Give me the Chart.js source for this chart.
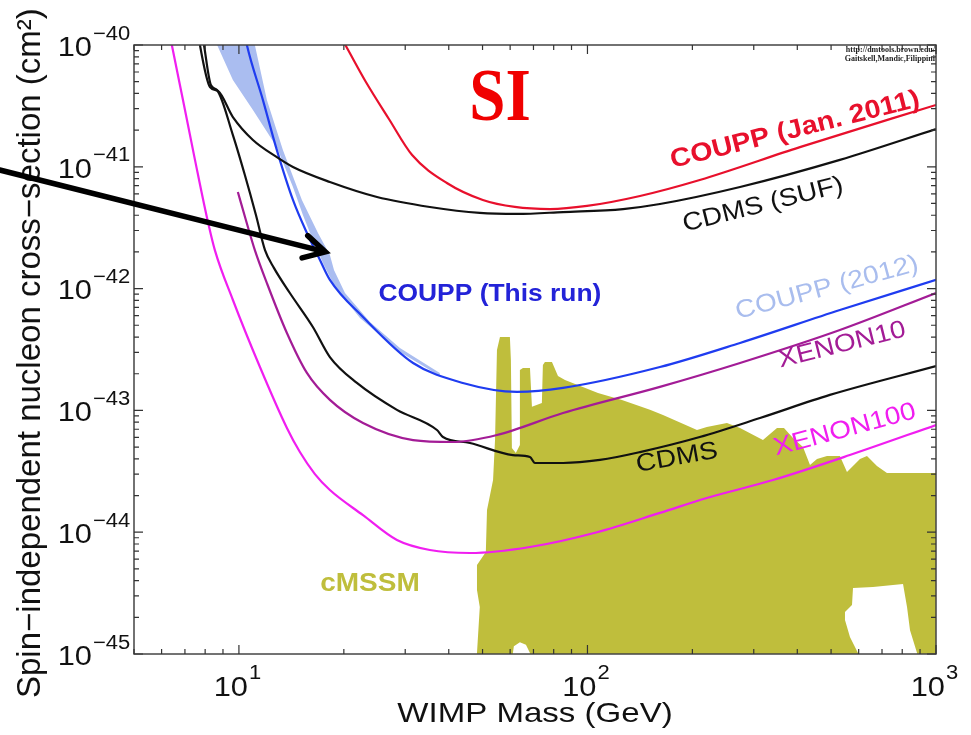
<!DOCTYPE html>
<html>
<head>
<meta charset="utf-8">
<script src="https://cdn.jsdelivr.net/npm/chart.js@4.4.1/dist/chart.umd.min.js"></script>
<style>
  html, body { margin: 0; padding: 0; background: #fff; }
  #wrap { width: 971px; height: 735px; }
</style>
</head>
<body>
<div id="wrap"><canvas id="chart" width="971" height="735"></canvas></div>
<script>
// WIMP mass in GeV, cross-section in cm^2
const coupp2011Mass  = [18.86, 20.2, 23.14, 26.94, 31.4, 39.5, 50.1, 61.9, 78.1, 99.7, 141.5, 210, 407, 1000];
const coupp2011Sigma = [1.41e-40, 1.0e-40, 4.97e-41, 2.47e-41, 1.25e-41, 7.36e-42, 5.34e-42, 4.68e-42, 4.50e-42, 4.77e-42, 5.76e-42, 7.79e-42, 1.45e-41, 3.22e-41];

const cdmsSufMass  = [7.58, 7.73, 8.26, 8.71, 9.61, 10.97, 12.85, 14.29, 18.24, 24.9, 35.3, 49.1, 62.8, 85.1, 126.5, 161.4, 274, 530, 1000];
const cdmsSufSigma = [1.46e-40, 1.0e-40, 4.52e-41, 4.19e-41, 2.56e-41, 1.66e-41, 1.20e-41, 9.96e-42, 7.50e-42, 5.65e-42, 4.68e-42, 4.18e-42, 4.10e-42, 4.25e-42, 4.50e-42, 4.95e-42, 6.83e-42, 1.14e-41, 2.04e-41];

const cdmsMass  = [7.78, 7.94, 8.31, 8.65, 9.61, 10.40, 11.19, 11.88, 12.60, 14.0, 16.3, 18.24, 21.8, 28.4, 37.0, 38.5, 46.0, 61.1, 68.4, 70.7, 85.1, 108.6, 141.5, 210, 312.6, 496, 1000];
const cdmsSigma = [1.46e-40, 1.0e-40, 4.69e-41, 4.27e-41, 1.82e-41, 8.56e-42, 4.02e-42, 2.07e-42, 1.48e-42, 9.20e-43, 4.84e-43, 2.74e-43, 1.68e-43, 1.01e-43, 6.90e-44, 6.05e-44, 5.40e-44, 4.30e-44, 4.14e-44, 3.70e-44, 3.70e-44, 3.92e-44, 4.55e-44, 6.05e-44, 8.66e-44, 1.34e-43, 2.31e-43];

const couppRunMass  = [10.27, 10.54, 11.72, 12.85, 14.29, 15.67, 17.08, 18.24, 22.7, 31.6, 43.9, 62.8, 85.1, 161.4, 274, 530, 1000];
const couppRunSigma = [1.46e-40, 1.0e-40, 3.53e-41, 1.37e-41, 5.34e-42, 2.86e-42, 1.72e-42, 1.18e-42, 5.85e-43, 2.45e-43, 1.68e-43, 1.42e-43, 1.53e-43, 2.27e-43, 3.58e-43, 6.67e-43, 1.18e-42];

const xenon10Mass  = [9.93, 10.47, 11.11, 12.03, 13.73, 15.67, 18.24, 22.7, 31.6, 41.1, 55.0, 85.1, 161.4, 274, 530, 1000];
const xenon10Sigma = [6.21e-42, 3.66e-42, 2.07e-42, 1.11e-42, 4.32e-43, 2.03e-43, 1.22e-43, 7.88e-44, 5.71e-44, 5.50e-44, 6.28e-44, 9.52e-44, 1.56e-43, 2.45e-43, 4.57e-43, 9.20e-43];

const xenon100Mass  = [6.30, 6.42, 6.91, 7.48, 8.09, 8.53, 9.61, 11.49, 13.73, 14.96, 16.52, 18.24, 22.7, 28.4, 35.3, 46.0, 68.4, 106.5, 161.4, 220, 340.6, 566, 1000];
const xenon100Sigma = [1.33e-40, 1.0e-40, 3.53e-41, 1.14e-41, 3.87e-42, 2.07e-42, 8.06e-43, 2.27e-43, 7.17e-44, 4.55e-44, 3.00e-44, 2.22e-44, 1.38e-44, 8.63e-45, 7.14e-45, 6.75e-45, 7.56e-45, 1.00e-44, 1.44e-44, 1.91e-44, 2.68e-44, 4.30e-44, 7.59e-44];

// outline of the COUPP (2012) band: left edge down, right edge back up
const coupp2012Band = [
  [8.53, 1.10e-40], [9.61, 5.16e-41], [10.97, 2.93e-41], [12.85, 1.45e-41], [14.29, 6.83e-42],
  [15.26, 4.02e-42], [16.3, 2.51e-42], [17.53, 1.56e-42], [18.86, 1.03e-42], [22.25, 5.74e-43],
  [28.97, 3.02e-43], [37.7, 1.92e-43], [37.7, 2.03e-43], [28.97, 3.25e-43], [23.77, 5.32e-43],
  [20.15, 9.20e-43], [18.74, 1.42e-42], [18.24, 1.89e-42], [16.86, 2.86e-42], [15.16, 5.34e-42],
  [13.38, 1.37e-41], [12.03, 3.53e-41], [11.11, 1.0e-40], [11.19, 1.10e-40]
];

// outline of the cMSSM region
const cmssmRegion = [
  [48.2, 8.12e-46], [48.2, 1.02e-45], [49.1, 2.43e-45], [48.2, 3.35e-45], [48.2, 5.38e-45],
  [51.1, 6.88e-45], [51.5, 1.52e-44], [53.6, 2.68e-44], [54.3, 5.71e-44], [55.0, 3.13e-43],
  [56.1, 4.00e-43], [59.9, 4.00e-43], [60.3, 2.59e-43], [60.7, 4.91e-44], [62.3, 4.47e-44],
  [64.0, 5.20e-44], [64.0, 2.15e-43], [65.3, 2.23e-43], [68.4, 2.23e-43], [69.3, 1.07e-43],
  [74.0, 1.15e-43], [74.5, 2.36e-43], [75.5, 2.50e-43], [79.1, 2.50e-43], [82.3, 1.92e-43],
  [86.2, 1.78e-43], [107.2, 1.39e-43], [125.6, 1.22e-43], [151.1, 1.01e-43], [164.7, 9.17e-44],
  [206.2, 6.90e-44], [220, 7.31e-44], [251.3, 7.88e-44], [274, 7.17e-44], [318.8, 5.71e-44],
  [349.8, 7.17e-44], [366.3, 7.17e-44], [388.8, 5.93e-44], [415.3, 5.01e-44], [435.0, 3.56e-44],
  [455.6, 3.99e-44], [486.7, 4.22e-44], [530, 4.22e-44], [555.4, 3.12e-44], [605.2, 3.99e-44],
  [633.9, 4.22e-44], [677.0, 3.50e-44], [723.3, 3.06e-44], [1061, 3.06e-44], [1061, 8.12e-46],
  [882.3, 8.12e-46], [882.3, 1.02e-45], [842.3, 1.57e-45], [825.8, 2.43e-45], [804.3, 3.75e-45],
  [659.4, 3.55e-45], [577.9, 3.48e-45], [574.1, 2.53e-45], [548.1, 2.21e-45], [548.1, 1.90e-45],
  [566.4, 1.38e-45], [597.3, 1.02e-45], [597.3, 8.12e-46], [68.4, 8.12e-46], [68.4, 1.02e-45],
  [66.6, 1.19e-45], [64.0, 1.25e-45], [61.5, 1.16e-45], [61.1, 1.02e-45], [61.1, 8.12e-46]
];

const xMajorTicks = [10, 100, 1000];
const xTickExp = ['1', '2', '3'];
const yMajorTicks = [1e-45, 1e-44, 1e-43, 1e-42, 1e-41, 1e-40];
const yTickExp = ['\u221245', '\u221244', '\u221243', '\u221242', '\u221241', '\u221240'];

// text placed in data coordinates
const notes = [
  { text: 'SI', mass: 56.1, sigma: 3.47e-41, angle: 0, font: 'bold 74px "Liberation Serif"', sx: 0.88, color: '#f00000' },
  { text: 'COUPP (Jan. 2011)', mass: 394, sigma: 2.00e-41, angle: -14, font: 'bold 26px "Liberation Sans"', sx: 1.1, color: '#e8102c' },
  { text: 'CDMS (SUF)', mass: 318.8, sigma: 4.86e-42, angle: -14, font: '25px "Liberation Sans"', sx: 1.12, color: '#111111' },
  { text: 'COUPP (This run)', mass: 52.5, sigma: 8.9e-43, angle: 0, font: 'bold 24px "Liberation Sans"', sx: 1.1, color: '#2323d8' },
  { text: 'COUPP (2012)', mass: 486.7, sigma: 1.01e-42, angle: -15, font: '25px "Liberation Sans"', sx: 1.12, color: '#a9bdee' },
  { text: 'XENON10', mass: 537.6, sigma: 3.44e-43, angle: -14, font: '25px "Liberation Sans"', sx: 1.12, color: '#a31c96' },
  { text: 'XENON100', mass: 548, sigma: 6.90e-44, angle: -15, font: '25px "Liberation Sans"', sx: 1.12, color: '#f01ef0' },
  { text: 'CDMS', mass: 180.7, sigma: 4.07e-44, angle: -10, font: '25px "Liberation Sans"', sx: 1.12, color: '#111111' },
  { text: 'cMSSM', mass: 23.77, sigma: 3.75e-45, angle: 0, font: 'bold 25px "Liberation Sans"', sx: 1.12, color: '#bfbe3c' },
  { text: 'http://dmtools.brown.edu/', mass: 1000, sigma: 9.1e-41, angle: 0, font: 'bold 8px "Liberation Serif"', sx: 1, color: '#222', align: 'right' },
  { text: 'Gaitskell,Mandic,Filippini', mass: 1000, sigma: 7.75e-41, angle: 0, font: 'bold 8px "Liberation Serif"', sx: 1, color: '#222', align: 'right' }
];

const arrowFrom = [2.06, 9.41e-42];
const arrowTo = [17.7, 2.0e-42];

function toPoints(xs, ys) {
  return xs.map((m, i) => ({ x: m, y: ys[i] }));
}

function curve(label, xs, ys, color) {
  return {
    label, data: toPoints(xs, ys), borderColor: color, borderWidth: 2.2,
    pointRadius: 0, fill: false, cubicInterpolationMode: 'monotone', order: 1
  };
}

function region(label, outline, color, order) {
  return {
    label, data: outline.map(p => ({ x: p[0], y: p[1] })), borderWidth: 0,
    backgroundColor: color, pointRadius: 0, fill: 'shape', order
  };
}

function drawText(ctx, text, x, y, font, color, sx, angle, align) {
  ctx.save();
  ctx.translate(x, y);
  ctx.rotate(angle * Math.PI / 180);
  ctx.scale(sx, 1);
  ctx.font = font;
  ctx.fillStyle = color;
  ctx.textAlign = align || 'center';
  ctx.textBaseline = 'middle';
  ctx.fillText(text, 0, 0);
  ctx.restore();
}

const decorations = {
  id: 'decorations',
  afterDraw(chart) {
    const { ctx, chartArea: a, scales: { x, y } } = chart;
    ctx.save();

    // frame
    ctx.strokeStyle = '#444';
    ctx.lineWidth = 1.5;
    ctx.strokeRect(a.left, a.top, a.right - a.left, a.bottom - a.top);

    // inward ticks on all four sides
    ctx.strokeStyle = '#333';
    ctx.lineWidth = 1.2;
    const xMinor = [];
    [1, 10, 100].forEach(d => { for (let k = 2; k <= 9; k++) if (k * d >= 5) xMinor.push(k * d); });
    const yMinor = [];
    yMajorTicks.slice(0, -1).forEach(d => { for (let k = 2; k <= 9; k++) yMinor.push(k * d); });
    ctx.beginPath();
    const xt = (v, len) => {
      const px = x.getPixelForValue(v);
      ctx.moveTo(px, a.bottom); ctx.lineTo(px, a.bottom - len);
      ctx.moveTo(px, a.top); ctx.lineTo(px, a.top + len);
    };
    const yt = (v, len) => {
      const py = y.getPixelForValue(v);
      ctx.moveTo(a.left, py); ctx.lineTo(a.left + len, py);
      ctx.moveTo(a.right, py); ctx.lineTo(a.right - len, py);
    };
    xMinor.forEach(v => xt(v, 5));
    xMajorTicks.forEach(v => xt(v, 9));
    yMinor.forEach(v => yt(v, 5));
    yMajorTicks.forEach(v => yt(v, 9));
    ctx.stroke();

    // tick labels: 10 with superscript exponent
    yMajorTicks.forEach((v, i) => {
      const py = y.getPixelForValue(v);
      drawText(ctx, '10', a.left - 42, py + 3, '28px "Liberation Sans"', '#111', 1.1, 0, 'right');
      drawText(ctx, yTickExp[i], a.left - 41, py - 11, '20px "Liberation Sans"', '#111', 1.1, 0, 'left');
    });
    xMajorTicks.forEach((v, i) => {
      const px = x.getPixelForValue(v);
      drawText(ctx, '10', px + 9, a.bottom + 34, '28px "Liberation Sans"', '#111', 1.1, 0, 'right');
      drawText(ctx, xTickExp[i], px + 10, a.bottom + 19, '20px "Liberation Sans"', '#111', 1.1, 0, 'left');
    });

    // axis titles
    drawText(ctx, 'WIMP Mass (GeV)', (a.left + a.right) / 2, a.bottom + 60, '28px "Liberation Sans"', '#111', 1.18, 0, 'center');
    ctx.save();
    ctx.translate(31, 698);
    ctx.rotate(-Math.PI / 2);
    ctx.font = '33px "Liberation Sans"';
    ctx.fillStyle = '#111';
    ctx.textAlign = 'left';
    ctx.textBaseline = 'middle';
    ctx.fillText('Spin\u2212independent nucleon cross\u2212section (cm\u00b2)', 0, 0);
    ctx.restore();

    // curve labels
    notes.forEach(n => {
      let px = x.getPixelForValue(n.mass);
      if (n.align === 'right') px -= 1;
      drawText(ctx, n.text, px, y.getPixelForValue(n.sigma), n.font, n.color, n.sx, n.angle, n.align);
    });

    // arrow pointing at the COUPP (2012) band
    const x0 = x.getPixelForValue(arrowFrom[0]), y0 = y.getPixelForValue(arrowFrom[1]);
    const x1 = x.getPixelForValue(arrowTo[0]), y1 = y.getPixelForValue(arrowTo[1]);
    const ang = Math.atan2(y1 - y0, x1 - x0);
    ctx.strokeStyle = '#000';
    ctx.lineWidth = 5.5;
    ctx.lineCap = 'round';
    ctx.lineJoin = 'miter';
    ctx.beginPath();
    ctx.moveTo(x0, y0);
    ctx.lineTo(x1 - 3 * Math.cos(ang), y1 - 3 * Math.sin(ang));
    ctx.stroke();
    ctx.beginPath();
    ctx.moveTo(x1 - 24 * Math.cos(ang - 0.5), y1 - 24 * Math.sin(ang - 0.5));
    ctx.lineTo(x1, y1);
    ctx.lineTo(x1 - 24 * Math.cos(ang + 0.5), y1 - 24 * Math.sin(ang + 0.5));
    ctx.stroke();

    ctx.restore();
  }
};

const datasets = [
  curve('COUPP (Jan. 2011)', coupp2011Mass, coupp2011Sigma, '#e8102c'),
  curve('CDMS (SUF)', cdmsSufMass, cdmsSufSigma, '#111111'),
  curve('COUPP (This run)', couppRunMass, couppRunSigma, '#1f3cf0'),
  curve('XENON10', xenon10Mass, xenon10Sigma, '#a31c96'),
  curve('CDMS', cdmsMass, cdmsSigma, '#111111'),
  curve('XENON100', xenon100Mass, xenon100Sigma, '#f01ef0'),
  region('COUPP (2012)', coupp2012Band, '#aabdf0', 2),
  region('cMSSM', cmssmRegion, '#bfbe3c', 3)
];

new Chart(document.getElementById('chart').getContext('2d'), {
  type: 'line',
  data: { datasets },
  options: {
    responsive: false,
    animation: false,
    devicePixelRatio: 1,
    events: [],
    layout: { padding: { left: 134, top: 45, right: 35, bottom: 81 } },
    plugins: { legend: { display: false }, tooltip: { enabled: false } },
    scales: {
      x: { type: 'logarithmic', min: 5, max: 1000, display: false },
      y: { type: 'logarithmic', min: 1e-45, max: 1e-40, display: false }
    }
  },
  plugins: [decorations]
});
</script>
</body>
</html>
